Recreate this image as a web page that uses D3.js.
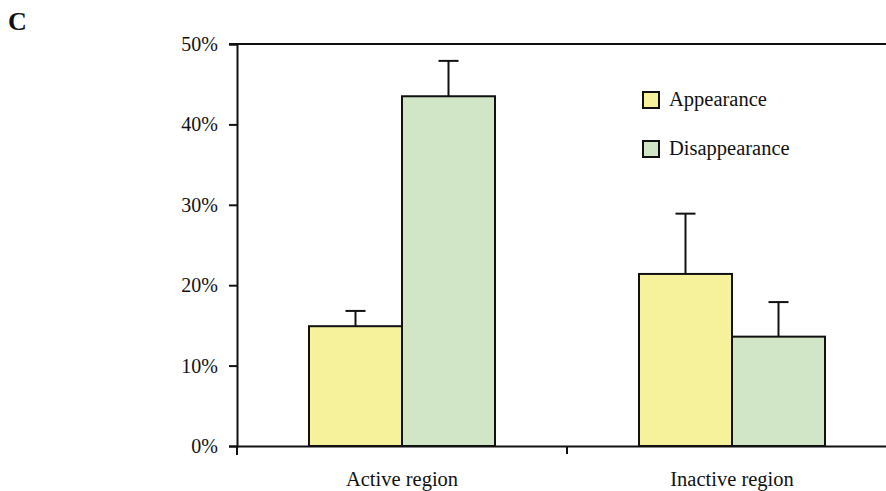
<!DOCTYPE html>
<html>
<head>
<meta charset="utf-8">
<script src="https://cdn.jsdelivr.net/npm/d3@7"></script>
<style>
  html, body { margin: 0; padding: 0; background: #fff; }
</style>
</head>
<body>
<svg id="chart" width="886" height="491"></svg>
<script>
// Regions on the x axis
const regions = ["Active region", "Inactive region"];
// Series
const seriesNames = ["Appearance", "Disappearance"];
const seriesColors = ["#f6f19b", "#d0e6c6"];
// Mean percentages per region
const appearance = [14.9, 21.4];
const disappearance = [43.5, 13.6];
// Upper error bar ends (percent)
const appearanceErr = [16.8, 28.9];
const disappearanceErr = [47.9, 17.9];
// Y ticks
const yTicks = [0, 10, 20, 30, 40, 50];

const FONT = "'Liberation Serif', 'Times New Roman', serif";
const INK = "#111";

const svg = d3.select("#chart");

const x = d3.scaleBand().domain(regions).range([237, 897]).paddingInner(0).paddingOuter(0);
const xs = d3.scaleBand().domain(seriesNames).range([0, x.bandwidth()]).paddingInner(0).paddingOuter(0.774);
const y = d3.scaleLinear().domain([0, 50]).range([446, 44]);

const values = [appearance, disappearance];
const errs = [appearanceErr, disappearanceErr];

// Top border line
svg.append("line").attr("x1", 229).attr("x2", 886).attr("y1", y(50)).attr("y2", y(50))
  .attr("stroke", INK).attr("stroke-width", 2);

// Bars and error bars
regions.forEach((r, ri) => {
  seriesNames.forEach((s, si) => {
    const bx = x(r) + xs(s);
    const bw = xs.bandwidth();
    const v = values[si][ri];
    const e = errs[si][ri];
    const cx = bx + bw / 2;
    svg.append("line").attr("x1", cx).attr("x2", cx).attr("y1", y(v)).attr("y2", y(e))
      .attr("stroke", INK).attr("stroke-width", 2);
    svg.append("line").attr("x1", cx - 10).attr("x2", cx + 10).attr("y1", y(e)).attr("y2", y(e))
      .attr("stroke", INK).attr("stroke-width", 2);
    svg.append("rect").attr("x", bx).attr("y", y(v)).attr("width", bw).attr("height", y(0) - y(v))
      .attr("fill", seriesColors[si]).attr("stroke", INK).attr("stroke-width", 2);
  });
});

// Y axis
const yAxis = d3.axisLeft(y).tickValues(yTicks).tickFormat(d => d + "%").tickSize(8).tickPadding(11);
const gy = svg.append("g").attr("transform", "translate(237,0)").call(yAxis);
gy.select(".domain").attr("stroke", INK).attr("stroke-width", 2);
gy.selectAll(".tick line").attr("stroke", INK).attr("stroke-width", 2);
gy.selectAll(".tick text").style("font-size", "20px").style("font-family", FONT).attr("fill", INK);
// Axis line continues a little below the zero line
svg.append("line").attr("x1", 237).attr("x2", 237).attr("y1", y(0)).attr("y2", y(0) + 9)
  .attr("stroke", INK).attr("stroke-width", 2);

// X axis
const xAxis = d3.axisBottom(x).tickSize(0).tickPadding(25);
const gx = svg.append("g").attr("transform", `translate(0,${y(0)})`).call(xAxis);
gx.select(".domain").attr("stroke", INK).attr("stroke-width", 2);
gx.selectAll(".tick text").style("font-size", "20.5px").style("font-family", FONT).attr("fill", INK);
// Category separator between the two regions
svg.append("line").attr("x1", x(regions[1])).attr("x2", x(regions[1]))
  .attr("y1", y(0)).attr("y2", y(0) + 8)
  .attr("stroke", INK).attr("stroke-width", 2);

// Legend
const lg = svg.append("g").attr("transform", "translate(642,91)");
seriesNames.forEach((s, i) => {
  const g = lg.append("g").attr("transform", `translate(0,${i * 49})`);
  g.append("rect").attr("x", 1).attr("y", 1).attr("width", 16).attr("height", 16)
    .attr("fill", seriesColors[i]).attr("stroke", INK).attr("stroke-width", 2);
  g.append("text").attr("x", 27).attr("y", 15)
    .style("font-size", "20.5px").style("font-family", FONT).attr("fill", INK).text(s);
});

// Panel label
svg.append("text").attr("x", 8).attr("y", 30)
  .style("font-size", "26px").style("font-weight", "bold").style("font-family", FONT)
  .attr("fill", INK).text("C");
</script>
</body>
</html>
